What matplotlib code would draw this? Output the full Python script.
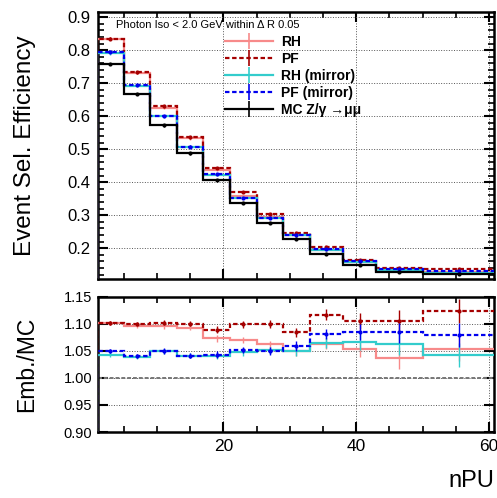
import numpy as np
import matplotlib.pyplot as plt
from matplotlib.lines import Line2D
from matplotlib.legend_handler import HandlerTuple
from matplotlib.ticker import MultipleLocator

plt.rcParams['font.family'] = ['Liberation Sans', 'DejaVu Sans']

# nPU binning
edges = np.array([1, 5, 9, 13, 17, 21, 25, 29, 33, 38, 43, 50, 61])

# MC efficiency per bin
mc_eff = np.array([0.758, 0.667, 0.572, 0.488, 0.407, 0.336, 0.277, 0.228, 0.183, 0.149, 0.127, 0.121])
mc_err = np.array([0.004, 0.004, 0.004, 0.004, 0.003, 0.003, 0.003, 0.003, 0.003, 0.003, 0.003, 0.003])

# ratios Emb./MC
rh_ratio = np.array([1.102, 1.096, 1.095, 1.093, 1.073, 1.070, 1.062, 1.049, 1.063, 1.054, 1.037, 1.053])
pf_ratio = np.array([1.102, 1.099, 1.102, 1.100, 1.089, 1.099, 1.100, 1.084, 1.117, 1.105, 1.105, 1.124])
rhm_ratio = np.array([1.043, 1.039, 1.049, 1.041, 1.040, 1.047, 1.051, 1.049, 1.065, 1.067, 1.062, 1.043])
pfm_ratio = np.array([1.050, 1.041, 1.050, 1.041, 1.043, 1.052, 1.050, 1.059, 1.081, 1.085, 1.085, 1.079])
ratio_err = np.array([0.004, 0.004, 0.005, 0.005, 0.006, 0.006, 0.007, 0.009, 0.010, 0.015, 0.020, 0.022])

labels = ['RH', 'PF', 'RH (mirror)', 'PF (mirror)', 'MC Z/γ →μμ']
colors = ['#f78a8a', '#a50000', '#33cccc', '#0000ee', 'black']
styles = ['-', (0, (2, 1.2)), '-', (0, (2, 1.2)), '-']
ratios = [rh_ratio, pf_ratio, rhm_ratio, pfm_ratio]

centers = 0.5 * (edges[:-1] + edges[1:])

fig = plt.figure(figsize=(4.97, 4.98), dpi=100)
ax = fig.add_axes([0.1966, 0.4392, 0.797, 0.5369])
rx = fig.add_axes([0.1966, 0.1325, 0.797, 0.2717])

handles = []
for r, c, s, lab in zip(ratios + [None], colors, styles, labels):
    if r is None:
        eff = mc_eff
        err = mc_err
    else:
        eff = mc_eff * r
        err = mc_err * r
    mk = s != '-' or c == 'black'
    ax.stairs(eff, edges, color=c, lw=1.6, ls=s, zorder=3)
    ax.errorbar(centers, eff, yerr=err, fmt='none', ecolor=c, elinewidth=1, zorder=3)
    if mk:
        ax.plot(centers, eff, 'o', color=c, ms=2, zorder=4)
    if r is not None:
        rx.stairs(r, edges, color=c, lw=1.6, ls=s, zorder=3)
        rx.errorbar(centers, r, yerr=ratio_err, fmt='none', ecolor=c, elinewidth=1, zorder=3)
        if mk:
            rx.plot(centers, r, 'o', color=c, ms=2, zorder=4)
    h = (Line2D([], [], color=c, lw=1.6, ls=s),
         Line2D([], [], color=c, marker='|', ms=12, mew=1.2, ls='none'))
    handles.append(h)

rx.axhline(1.0, color='#777777', lw=1.4, ls=(0, (2, 1)), zorder=2)

for a in (ax, rx):
    a.set_xlim(1.1, 60.7)
    a.grid(True, ls=':', color='#555555', lw=0.7)
    a.xaxis.set_major_locator(MultipleLocator(20))
    a.xaxis.set_minor_locator(MultipleLocator(5))
    a.tick_params(which='both', direction='in', top=True, right=True)
    a.tick_params(which='major', length=7, width=1.5)
    a.tick_params(which='minor', length=4, width=1.2)
    for sp in a.spines.values():
        sp.set_linewidth(1.8)

ax.set_ylim(0.106, 0.916)
ax.yaxis.set_major_locator(MultipleLocator(0.1))
ax.yaxis.set_minor_locator(MultipleLocator(0.02))
ax.tick_params(axis='x', labelbottom=False)
ax.tick_params(axis='y', labelsize=12, pad=5)
ax.set_yticks([0.2, 0.3, 0.4, 0.5, 0.6, 0.7, 0.8, 0.9])
ax.set_ylabel('Event Sel. Efficiency', fontsize=17.5)
ax.yaxis.set_label_coords(-0.155, 0.5)

rx.set_ylim(0.9, 1.15)
rx.set_yticks([0.90, 0.95, 1.00, 1.05, 1.10, 1.15])
rx.set_yticklabels(['0.90', '0.95', '1.00', '1.05', '1.10', '1.15'])
rx.tick_params(axis='y', labelsize=10.5, pad=4)
rx.tick_params(axis='x', labelsize=12.5, pad=5)
rx.set_ylabel('Emb./MC', fontsize=16.5)
rx.yaxis.set_label_coords(-0.15, 0.5)
rx.set_xlabel('nPU', fontsize=17)
rx.xaxis.set_label_coords(1.0, -0.28)
rx.xaxis.label.set_horizontalalignment('right')

ax.text(0.047, 0.952, 'Photon Iso < 2.0 GeV within Δ R 0.05', transform=ax.transAxes,
        fontsize=8, va='center', ha='left')
ax.legend(handles, labels, loc='upper left', bbox_to_anchor=(0.305, 0.94),
          frameon=False, prop={'weight': 'bold', 'size': 10},
          handlelength=3.4, handletextpad=0.6, labelspacing=0.22, borderpad=0,
          handler_map={tuple: HandlerTuple(ndivide=1, pad=0)})

fig.savefig('out.png', dpi=100)
